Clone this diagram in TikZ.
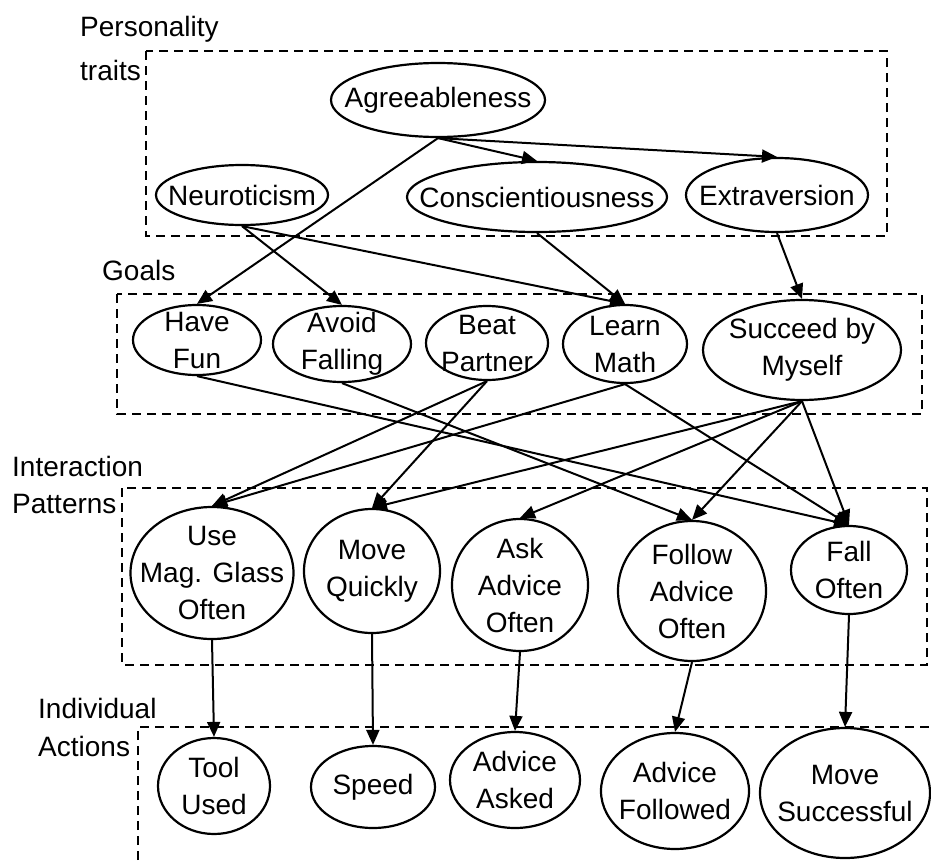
\documentclass[tikz,border=0pt]{standalone}
\usepackage{fontspec}
\setmainfont{Liberation Sans}
\usetikzlibrary{arrows.meta,shapes.geometric}
\begin{document}
\begin{tikzpicture}[x=1pt,y=-1pt,
  ell/.style={draw, ellipse, line width=2.2pt, inner sep=0pt},
  txt/.style={font=\fontsize{28}{37}\selectfont, align=center, inner sep=0pt},
  grp/.style={draw, line width=2.6pt, dash pattern=on 9pt off 6pt},
  lay/.style={font=\fontsize{28}{37}\selectfont, anchor=base west, inner sep=0pt},
  arr/.style={line width=2pt, -{Triangle[length=15pt,width=13pt]}}]
\useasboundingbox (0,0) rectangle (931,862);
\fill[white] (0,0) rectangle (931,862);

% group boxes
\draw[grp] (146,51) rectangle (887,236);
\draw[grp] (117,294) rectangle (922,414);
\draw[grp] (122,488) rectangle (927,665);
\draw[grp] (138,875) -- (138,727) -- (945,727);

% layer labels
\node[lay] (l1a) at (80,36) {Personality};
\node[lay] (l1b) at (80,80) {traits};
\node[lay] (l2) at (102,280) {Goals};
\node[lay] (l3a) at (12,476) {Interaction};
\node[lay] (l3b) at (12,513) {Patterns};
\node[lay] (l4a) at (38,718) {Individual};
\node[lay] (l4b) at (38,756) {Actions};

% personality traits
\node[ell, minimum width=214pt, minimum height=74pt, label={[txt]center:Agreeableness}] (ag) at (438,100) {};
\node[ell, minimum width=172pt, minimum height=60pt, label={[txt]center:Neuroticism}] (ne) at (242,195) {};
\node[ell, minimum width=260pt, minimum height=70pt, label={[txt]center:Conscientiousness}] (co) at (537,197) {};
\node[ell, minimum width=182pt, minimum height=74pt, label={[txt]center:Extraversion}] (ex) at (777,195) {};

% goals
\node[ell, minimum width=128pt, minimum height=70pt, label={[txt]center:{Have\\Fun}}] (hf) at (197,340) {};
\node[ell, minimum width=138pt, minimum height=76pt, label={[txt]center:{Avoid\\Falling}}] (af) at (342,344) {};
\node[ell, minimum width=122pt, minimum height=74pt, label={[txt]center:{Beat\\Partner}}] (bp) at (487,343) {};
\node[ell, minimum width=124pt, minimum height=78pt, label={[txt]center:{Learn\\Math}}] (lm) at (625,344) {};
\node[ell, minimum width=198pt, minimum height=100pt, label={[txt]center:{Succeed by\\Myself}}] (sm) at (802,350) {};

% interaction patterns
\node[ell, minimum width=163pt, minimum height=132pt, label={[txt]center:{Use\\Mag. Glass\\Often}}] (us) at (212,573) {};
\node[ell, minimum width=136pt, minimum height=124pt, label={[txt]center:{Move\\Quickly}}] (mq) at (372,571) {};
\node[ell, minimum width=136pt, minimum height=132pt, label={[txt]center:{Ask\\Advice\\Often}}] (aa) at (520,585) {};
\node[ell, minimum width=148pt, minimum height=140pt, label={[txt]center:{Follow\\Advice\\Often}}] (fa) at (692,591) {};
\node[ell, minimum width=116pt, minimum height=88pt, label={[txt]center:{Fall\\Often}}] (fo) at (849,570) {};

% individual actions
\node[ell, minimum width=112pt, minimum height=96pt, label={[txt]center:{Tool\\Used}}] (tu) at (214,786) {};
\node[ell, minimum width=124pt, minimum height=82pt, label={[txt]center:Speed}] (sp) at (373,787) {};
\node[ell, minimum width=130pt, minimum height=96pt, label={[txt]center:{Advice\\Asked}}] (ad) at (515,780) {};
\node[ell, minimum width=148pt, minimum height=116pt, label={[txt]center:{Advice\\Followed}}] (afd) at (675,791) {};
\node[ell, minimum width=170pt, minimum height=130pt, label={[txt]center:{Move\\Successful}}] (ms) at (845,793) {};

% edges: traits -> goals
\draw[arr] (ag.south) -- (co.north);
\draw[arr] (ag.south) -- (ex.north);
\draw[arr] (ag.south) -- (hf.north);
\draw[arr] (ne.south) -- (af.north);
\draw[arr] (ne.south) -- (lm.north);
\draw[arr] (co.south) -- (lm.north);
\draw[arr] (ex.south) -- (sm.north);

% goals -> patterns
\draw[arr] (hf.south) -- (fo.north);
\draw[arr] (af.south) -- (fa.north);
\draw[arr] (bp.south) -- (us.north);
\draw[arr] (bp.south) -- (mq.north);
\draw[arr] (lm.south) -- (us.north);
\draw[arr] (lm.south) -- (fo.north);
\draw[arr] (sm.south) -- (mq.north);
\draw[arr] (sm.south) -- (aa.north);
\draw[arr] (sm.south) -- (fa.north);
\draw[arr] (sm.south) -- (fo.north);

% patterns -> actions
\draw[arr] (us.south) -- (tu.north);
\draw[arr] (mq.south) -- (sp.north);
\draw[arr] (aa.south) -- (ad.north);
\draw[arr] (fa.south) -- (afd.north);
\draw[arr] (fo.south) -- (ms.north);
\end{tikzpicture}
\end{document}
